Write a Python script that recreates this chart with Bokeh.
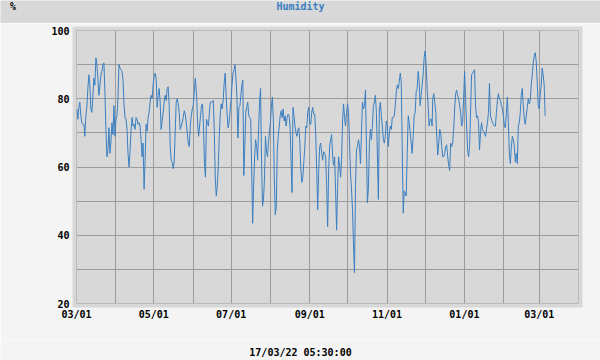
import numpy as np
import pandas as pd
from bokeh.plotting import figure
from bokeh.layouts import column
from bokeh.models import (ColumnDataSource, FixedTicker, DatetimeTickFormatter, Range1d, Span)
from bokeh.core.properties import value
from bokeh.embed import file_html
from bokeh.resources import INLINE

# ---- data (humidity %) ----
seg_bounds = [("2021-03-01 06:00", "2021-06-02 17:00"),
              ("2021-06-03 18:00", "2021-09-04 02:00"),
              ("2021-09-04 22:00", "2021-12-06 12:00"),
              ("2021-12-07 01:00", "2022-03-05 17:00")]

hum_mar_may = [77, 74, 77.5, 79, 75, 73, 72.5, 72.5, 69, 75, 77.5, 83, 87, 84, 77, 76, 80.5, 86, 84, 92,
               90, 86, 81, 84, 87, 88, 90, 90.5, 82, 71, 63, 65, 71.5, 64, 67.5, 73, 69.5, 78, 69, 74,
               75, 80.5, 90, 89, 88.5, 88, 85.5, 78.5, 74.5, 74, 71, 64, 60, 64.5, 70.5, 74.5, 72, 72.5,
               71, 74.5, 74, 72.5, 73, 72, 68, 63, 67, 53.5, 62, 72.5, 70.5, 74.5, 76, 79, 81, 80, 84,
               86.5, 87.5, 86, 77.5, 81, 83, 79, 71, 73.5, 76, 79, 81, 79.5, 83, 83.5, 78, 66, 62, 61.5,
               59.5, 61.5, 70.5, 79, 80, 78.5, 76, 71, 72, 73, 74.5, 76.5, 75.5, 73, 70, 67, 66, 72, 75,
               77, 78, 82, 86]
hum_jun_aug = [81, 73, 69, 72, 75, 78, 78.5, 72, 61, 57, 74, 73, 72, 76, 79, 79, 79, 79.5, 70, 56.5,
               51.5, 54.5, 60, 69, 75.5, 78.5, 77, 79.5, 84.5, 87.5, 81, 75.5, 71.5, 73, 76, 79.5, 84,
               87.5, 88.5, 90, 86, 80.5, 68.5, 77.5, 78, 81, 84, 85.5, 57.5, 66, 76, 77.5, 79, 75, 74.5,
               74, 59, 43.5, 55, 63, 68, 66, 62, 71, 79, 83, 62, 48.5, 50.5, 56.5, 69, 65, 63, 67, 70,
               73, 77.5, 80.5, 74, 56.5, 46, 48.5, 65, 69, 72, 75, 76.5, 74.5, 77, 73.5, 75, 72, 74.5,
               75.5, 75, 72, 62, 52.5, 77.5, 75, 72, 70, 69, 71, 71.5, 67, 59, 55.5, 57, 61.5, 66, 72,
               71.5, 76, 77.5, 73, 72.5, 76, 77.5, 75.5]
hum_sep_nov = [75.5, 70, 59, 47.5, 59, 66, 67, 64, 62, 64.5, 64, 63, 54.5, 42.5, 59, 66, 68, 69.5, 63,
               60.5, 63, 53, 41.5, 54, 63, 60.5, 57, 62, 73.5, 78.5, 74.5, 72, 76, 78.5, 76, 67, 58, 53.5,
               47.5, 37, 29, 54.5, 65, 66, 68, 66, 61, 70, 79, 77, 78, 82.5, 66, 49.5, 54, 67, 71, 68,
               72, 78, 79, 81, 76, 63.5, 50.5, 77, 79, 75, 72, 68, 67, 69, 73.5, 72, 66, 70, 72, 71,
               74.5, 74.5, 75, 78, 82, 84, 83, 85, 87.5, 85, 65, 46.5, 53, 52.5, 51.5, 64, 75, 73, 70,
               67, 64, 69, 75, 76, 82, 83, 88, 85, 78, 81, 84, 87, 92, 94, 90, 83, 78, 72, 74, 74, 72]
hum_dec_mar = [80, 81.5, 79, 76, 69, 63.5, 67, 71, 70, 66, 63, 63, 64, 66, 66.5, 63, 60.5, 59, 67, 66,
               67, 71, 77, 81.5, 82.5, 81, 80, 78, 76, 72, 73, 80, 88, 80, 72, 65, 63, 66, 76, 87, 87.5,
               88, 88.5, 78, 74.5, 75, 73, 65, 70, 73, 71, 70.5, 70, 69, 71, 73, 76, 84.5, 75, 74, 73,
               72.5, 72, 72, 76, 79.5, 81.5, 80, 79.5, 78, 77, 75, 72, 71.5, 76, 80.5, 73, 64, 61, 66,
               69, 68, 66, 61.5, 64, 61, 72, 73, 76, 81, 83, 78, 74, 72.5, 75, 77.5, 80, 78.5, 79.5, 84,
               87, 90.5, 92.5, 93.5, 91, 85, 78, 77, 81, 84, 89, 87, 84, 75]

label_months = ["2021-03-01", "2021-05-01", "2021-07-01", "2021-09-01",
                "2021-11-01", "2022-01-01", "2022-03-01"]
grid_months = ["2021-04-01", "2021-06-01", "2021-08-01", "2021-10-01",
               "2021-12-01", "2022-02-01", "2022-04-01"]
y_labels = [20, 40, 60, 80, 100]
y_minor = [30, 50, 70, 90]
title_text = "Humidity"
unit_text = "%"
stamp_text = "17/03/22 05:30:00"

# ---- build source ----
xs, ys = [], []
for (s, e), seg in zip(seg_bounds, [hum_mar_may, hum_jun_aug, hum_sep_nov, hum_dec_mar]):
    xs.extend(pd.date_range(pd.Timestamp(s), pd.Timestamp(e), periods=len(seg)))
    ys.extend(seg)
src = ColumnDataSource(dict(t=xs, h=ys))

def ms(d):
    return pd.Timestamp(d).value // 10**6

FONT = "DejaVu Sans Mono"
GRID = "#9c9c9c"
BLUE = "#3a7fc1"
PANEL = "#d8d8d8"
PAGE = "#f4f4f4"
W = 600
BAND_H, MAIN_H, STAMP_H = 23, 317, 20

def strip(height, fill):
    f = figure(width=W, height=height, x_range=Range1d(0, W), y_range=Range1d(height, 0),
               output_backend="svg", toolbar_location=None, min_border=0,
               x_axis_location=None, y_axis_location=None)
    f.frame_align = False
    f.outline_line_color = None
    f.background_fill_color = fill
    f.border_fill_color = fill
    f.grid.visible = False
    return f

txt = dict(text_font=value(FONT), text_font_style="bold", text_font_size="10px",
           text_align="center", text_baseline="middle")

# ---- header band ----
band = strip(BAND_H, PANEL)
band.text(x=[12.5], y=[6], text=[unit_text], text_color="#000000", **txt)
band.text(x=[300], y=[6], text=[title_text], text_color=BLUE, **txt)

# ---- main chart ----
p = figure(width=W, height=MAIN_H, x_axis_type="datetime",
           x_range=Range1d(pd.Timestamp("2021-03-01"), pd.Timestamp("2022-04-01")),
           y_range=Range1d(20, 100),
           output_backend="svg", toolbar_location=None,
           min_border_left=76, min_border_right=22, min_border_top=7, min_border_bottom=37)
p.frame_align = False
p.background_fill_color = PANEL
p.border_fill_color = PAGE
p.outline_line_color = PANEL
p.outline_line_width = 8
p.outline_line_join = "miter"

p.xaxis.ticker = FixedTicker(ticks=[ms(d) for d in label_months],
                             minor_ticks=[ms(d) for d in grid_months])
fmt = "%m/%d"
p.xaxis.formatter = DatetimeTickFormatter(milliseconds=fmt, seconds=fmt, minsec=fmt, minutes=fmt,
                                          hourmin=fmt, hours=fmt, days=fmt, months=fmt, years=fmt)
p.yaxis.ticker = FixedTicker(ticks=y_labels, minor_ticks=y_minor)

for ax in (p.xaxis[0], p.yaxis[0]):
    ax.axis_line_color = None
    ax.major_tick_line_color = None
    ax.minor_tick_line_color = None
    ax.major_tick_out = 0
    ax.minor_tick_out = 0
    ax.major_tick_in = 0
    ax.minor_tick_in = 0
    ax.major_label_text_font = FONT
    ax.major_label_text_font_style = "bold"
    ax.major_label_text_font_size = "10px"
    ax.major_label_text_color = "#000000"
p.xaxis.major_label_standoff = 5
p.yaxis.major_label_standoff = 7

for g in (p.xgrid[0], p.ygrid[0]):
    g.grid_line_color = GRID
    g.minor_grid_line_color = GRID
    g.grid_line_width = 1
    g.minor_grid_line_width = 1

for loc in (ms("2021-03-01"), ms("2022-04-01")):
    p.add_layout(Span(location=loc, dimension="height", line_color=GRID, line_width=1))
for loc in (20, 100):
    p.add_layout(Span(location=loc, dimension="width", line_color=GRID, line_width=1))

p.line("t", "h", source=src, line_color=BLUE, line_width=1)

# ---- time stamp strip ----
stamp = strip(STAMP_H, PAGE)
stamp.text(x=[300], y=[12], text=[stamp_text], text_color="#000000", **txt)

page = column(band, p, stamp, spacing=0)
page.styles = {"position": "absolute", "left": "0px", "top": "0px"}

open("out.html", "w").write(file_html(page, INLINE))
